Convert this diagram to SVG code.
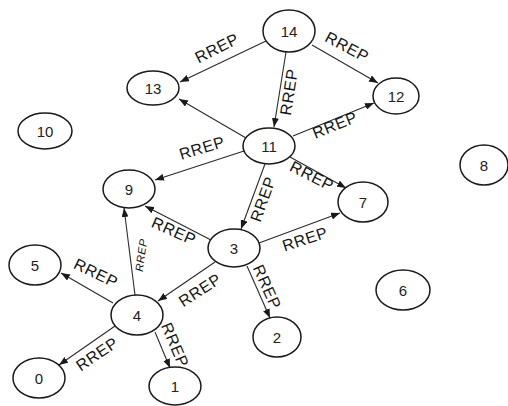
<svg xmlns="http://www.w3.org/2000/svg" width="508" height="406" viewBox="0 0 508 406">
<defs>
<marker id="arr" markerUnits="userSpaceOnUse" markerWidth="9" markerHeight="7" refX="9" refY="3.5" orient="auto">
<path d="M0,0 L9,3.5 L0,7 z" fill="#1a1a1a"/>
</marker>
<style>
.n ellipse{fill:#fff;stroke:#1a1a1a;stroke-width:1.5}
.n text{font-family:"Liberation Sans",Arial,sans-serif;font-size:15px;fill:#222;text-anchor:middle;dominant-baseline:central}
.e line{stroke:#2a2a2a;stroke-width:1.1;marker-end:url(#arr)}
.l{font-family:"Liberation Sans",Arial,sans-serif;font-size:16px;fill:#151515;text-anchor:middle;dominant-baseline:central;letter-spacing:0.6px}
.s{font-size:11px;font-style:italic}
</style>
</defs>
<rect width="508" height="406" fill="#fff"/>
<g id="connectors" class="e">
<line x1="266" y1="41" x2="180" y2="82"/>
<line x1="312" y1="45" x2="378" y2="83"/>
<line x1="286" y1="52" x2="274" y2="127"/>
<line x1="246" y1="138" x2="179" y2="99"/>
<line x1="293" y1="136" x2="374" y2="103"/>
<line x1="244" y1="151" x2="155" y2="180"/>
<line x1="290" y1="157" x2="346" y2="188"/>
<line x1="265" y1="164" x2="241" y2="229"/>
<line x1="211" y1="240" x2="145" y2="206"/>
<line x1="259" y1="243" x2="340" y2="213"/>
<line x1="215" y1="262" x2="158" y2="301"/>
<line x1="247" y1="266" x2="270" y2="318"/>
<line x1="135" y1="295" x2="124" y2="208"/>
<line x1="113" y1="303" x2="61" y2="273"/>
<line x1="115" y1="326" x2="59" y2="365"/>
<line x1="155" y1="332" x2="170" y2="368"/>
</g>
<g id="labels">
<text class="l" x="217" y="48" transform="rotate(-27 217 48)">RREP</text>
<text class="l" x="347" y="47" transform="rotate(28 347 47)">RREP</text>
<text class="l" x="289" y="92" transform="rotate(-81 289 92)">RREP</text>
<text class="l" x="335" y="125" transform="rotate(-22 335 125)">RREP</text>
<text class="l" x="202" y="148" transform="rotate(-17 202 148)">RREP</text>
<text class="l" x="312" y="176" transform="rotate(27 312 176)">RREP</text>
<text class="l" x="263" y="199" transform="rotate(-70 263 199)">RREP</text>
<text class="l" x="174" y="231" transform="rotate(24 174 231)">RREP</text>
<text class="l" x="305" y="239" transform="rotate(-18 305 239)">RREP</text>
<text class="l" x="200" y="290" transform="rotate(-33 200 290)">RREP</text>
<text class="l" x="267" y="287" transform="rotate(66 267 287)">RREP</text>
<text class="l s" x="141" y="255" transform="rotate(-82 141 255)">RREP</text>
<text class="l" x="96" y="273" transform="rotate(26 96 273)">RREP</text>
<text class="l" x="97" y="354" transform="rotate(-34 97 354)">RREP</text>
<text class="l" x="175" y="345" transform="rotate(67 175 345)">RREP</text>
</g>
<g id="n14" class="n"><ellipse cx="289" cy="31" rx="26" ry="21"/><text x="289" y="31">14</text></g>
<g id="n13" class="n"><ellipse cx="153" cy="88" rx="26" ry="17"/><text x="153" y="88">13</text></g>
<g id="n12" class="n"><ellipse cx="396" cy="96" rx="23" ry="18"/><text x="396" y="96">12</text></g>
<g id="n11" class="n"><ellipse cx="269" cy="146" rx="26" ry="18"/><text x="269" y="146">11</text></g>
<g id="n10" class="n"><ellipse cx="45" cy="131" rx="27" ry="18"/><text x="45" y="131">10</text></g>
<g id="n9" class="n"><ellipse cx="129" cy="189" rx="26" ry="19"/><text x="129" y="189">9</text></g>
<g id="n8" class="n"><ellipse cx="484" cy="165" rx="24" ry="20"/><text x="484" y="165">8</text></g>
<g id="n7" class="n"><ellipse cx="363" cy="202" rx="25" ry="20"/><text x="363" y="202">7</text></g>
<g id="n3" class="n"><ellipse cx="234" cy="248" rx="26" ry="19"/><text x="234" y="248">3</text></g>
<g id="n5" class="n"><ellipse cx="35" cy="265" rx="26" ry="20"/><text x="35" y="265">5</text></g>
<g id="n6" class="n"><ellipse cx="403" cy="290" rx="27" ry="20"/><text x="403" y="290">6</text></g>
<g id="n4" class="n"><ellipse cx="137" cy="315" rx="26" ry="20"/><text x="137" y="315">4</text></g>
<g id="n2" class="n"><ellipse cx="277" cy="337" rx="24" ry="20"/><text x="277" y="337">2</text></g>
<g id="n0" class="n"><ellipse cx="39" cy="378" rx="26" ry="20"/><text x="39" y="378">0</text></g>
<g id="n1" class="n"><ellipse cx="175" cy="386" rx="26" ry="19"/><text x="175" y="386">1</text></g>
</svg>
